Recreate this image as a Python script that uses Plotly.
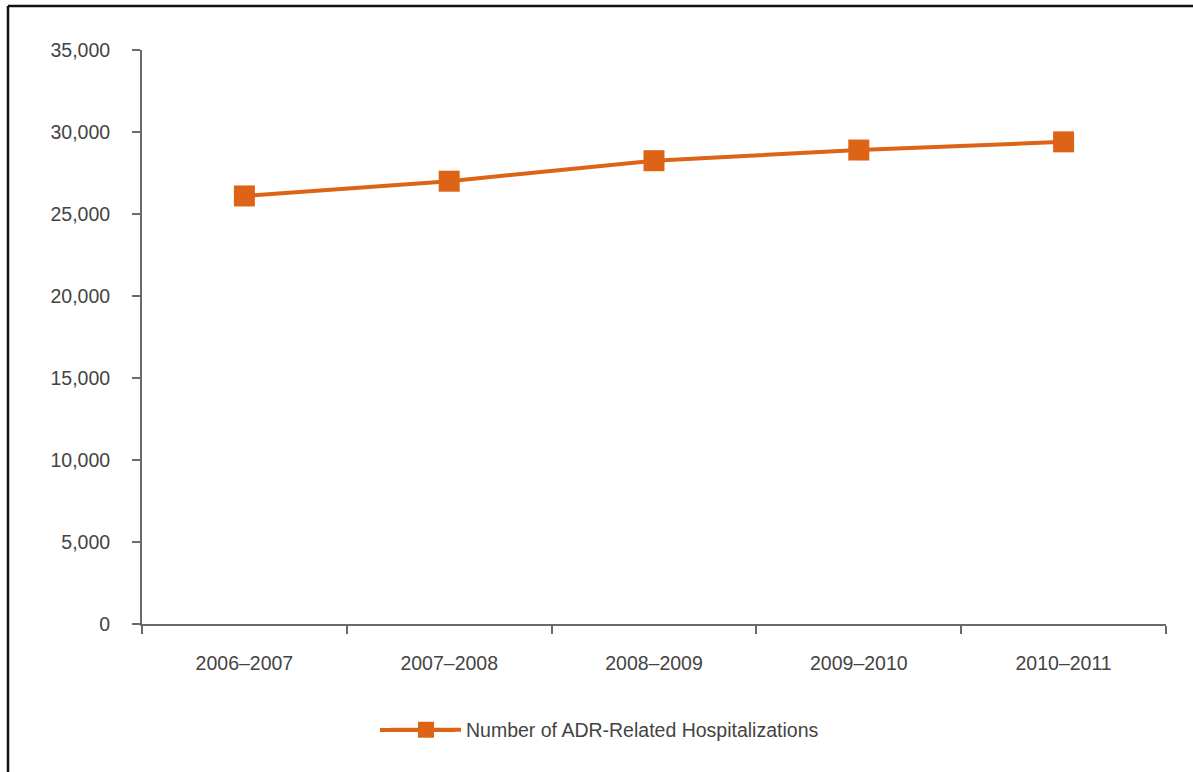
import plotly.graph_objects as go

categories = ["2006–2007", "2007–2008", "2008–2009", "2009–2010", "2010–2011"]
hospitalizations = [26100, 27000, 28250, 28900, 29400]
y_tickvals = [0, 5000, 10000, 15000, 20000, 25000, 30000, 35000]
y_ticktext = ["0", "5,000", "10,000", "15,000", "20,000", "25,000", "30,000", "35,000"]
series_name = "Number of ADR-Related Hospitalizations"

W, H = 1193, 772
L, R, T, B = 142, 27, 50, 148
FONT = "Liberation Sans, Arial, sans-serif"
ORANGE = "#DD6316"
TXT = "#444444"
AX = "#6a6a6a"

fig = go.Figure()
fig.add_trace(go.Scatter(
    x=categories, y=hospitalizations, name=series_name,
    mode="lines+markers",
    line=dict(color=ORANGE, width=4),
    marker=dict(symbol="square", size=21, color=ORANGE),
))

pw = W - L - R
ph = H - T - B
def px_x(p):
    return (p - L) / pw
def px_y(p):
    return (H - B - p) / ph

fig.update_layout(
    width=W, height=H,
    margin=dict(l=L, r=R, t=T, b=B, pad=0),
    paper_bgcolor="white", plot_bgcolor="white",
    font=dict(family=FONT, size=19.5, color=TXT),
    showlegend=True,
    legend=dict(
        orientation="h", x=px_x(386), y=px_y(730), xanchor="left", yanchor="middle",
        font=dict(family=FONT, size=19.5, color=TXT),
        bgcolor="rgba(0,0,0,0)", itemwidth=70, borderwidth=0,
    ),
    xaxis=dict(
        type="category", range=[-0.5, 4.5],
        showline=True, linecolor=AX, linewidth=2,
        ticks="outside", tickson="boundaries", ticklen=8, tickcolor=AX, tickwidth=2,
        showgrid=False, zeroline=False,
        ticklabelstandoff=21,
        tickfont=dict(family=FONT, size=19.5, color=TXT),
    ),
    yaxis=dict(
        range=[0, 35000], tickvals=y_tickvals, ticktext=y_ticktext,
        showline=True, linecolor=AX, linewidth=2,
        ticks="outside", ticklen=8, tickcolor=AX, tickwidth=2,
        showgrid=False, zeroline=False,
        ticklabelstandoff=18,
        tickfont=dict(family=FONT, size=19.5, color=TXT),
    ),
    shapes=[
        dict(type="line", xref="paper", yref="paper",
             x0=px_x(8), x1=px_x(1200), y0=px_y(6), y1=px_y(6),
             line=dict(color="#111", width=2.5)),
        dict(type="line", xref="paper", yref="paper",
             x0=px_x(8), x1=px_x(8), y0=px_y(6), y1=px_y(780),
             line=dict(color="#111", width=2.5)),
        dict(type="line", xref="paper", yref="paper",
             x0=px_x(380), x1=px_x(455), y0=px_y(730), y1=px_y(730),
             line=dict(color=ORANGE, width=4)),
    ],
)

fig.write_html("out.html")
